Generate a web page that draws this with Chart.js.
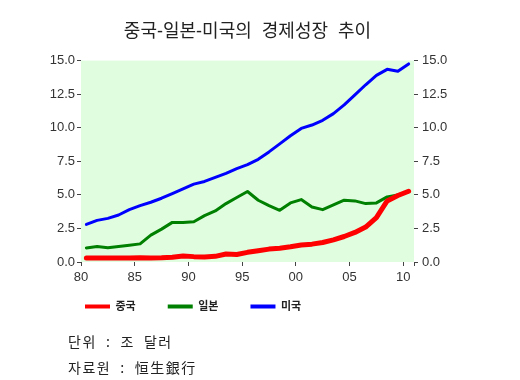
<!DOCTYPE html>
<html>
<head>
<meta charset="utf-8">
<script src="https://cdn.jsdelivr.net/npm/chart.js@4"></script>
<style>
  body { margin: 0; background: #fff; }
  #wrap { position: relative; width: 520px; height: 380px; }
  .note { position: absolute; left: 68px; font: 14px "Noto Sans CJK KR", sans-serif; color: #222;
          letter-spacing: 1.5px; word-spacing: 4.5px; white-space: nowrap; }
</style>
</head>
<body>
<div id="wrap">
  <canvas id="chart" width="520" height="380"></canvas>
  <div class="note" style="top:331px">단위 : 조 달러</div>
  <div class="note" style="top:357px">자료원 : 恒生銀行</div>
</div>
<script>
// 연도별 GDP (조 달러), 그림에서 읽은 값
const years = [1980, 1981, 1982, 1983, 1984, 1985, 1986, 1987, 1988, 1989,
               1990, 1991, 1992, 1993, 1994, 1995, 1996, 1997, 1998, 1999,
               2000, 2001, 2002, 2003, 2004, 2005, 2006, 2007, 2008, 2009, 2010];
const china = [0.30, 0.30, 0.29, 0.30, 0.30, 0.31, 0.30, 0.31, 0.36, 0.45,
               0.40, 0.38, 0.42, 0.60, 0.56, 0.72, 0.84, 0.96, 1.03, 1.13,
               1.26, 1.33, 1.45, 1.65, 1.90, 2.20, 2.60, 3.30, 4.55, 4.95, 5.27];
const japan = [1.05, 1.15, 1.06, 1.15, 1.25, 1.35, 2.00, 2.45, 2.95, 2.95,
               3.00, 3.45, 3.80, 4.35, 4.80, 5.25, 4.60, 4.20, 3.85, 4.40,
               4.65, 4.10, 3.90, 4.25, 4.60, 4.55, 4.35, 4.40, 4.85, 5.00, 5.25];
const usa = [2.80, 3.10, 3.25, 3.50, 3.90, 4.20, 4.45, 4.75, 5.10, 5.45,
             5.80, 6.00, 6.30, 6.60, 6.95, 7.25, 7.65, 8.20, 8.80, 9.40,
             9.95, 10.20, 10.55, 11.05, 11.70, 12.45, 13.20, 13.90, 14.35, 14.20, 14.75];
const seriesNames = ['중국', '일본', '미국'];
const seriesColors = ['#ff0000', '#008000', '#0000ff'];
const yTicks = [0, 2.5, 5, 7.5, 10, 12.5, 15];

// 연간 값은 해당 연도의 가운데에 찍는다
function toPoints(vals) {
    return vals.map((v, i) => ({ x: years[i] + 0.5, y: v }));
}

Chart.defaults.font.family = '"Liberation Sans", "Noto Sans CJK KR", sans-serif';
Chart.defaults.color = '#333';

const plotBg = {
    id: 'plotBg',
    beforeDraw(chart) {
        const { ctx, chartArea: a } = chart;
        ctx.save();
        ctx.fillStyle = '#e0fde0';
        ctx.fillRect(a.left, a.top, a.right - a.left, a.bottom - a.top);
        ctx.restore();
    }
};

// 범례와 제목을 그림 속 위치로 옮긴다
const placeLegend = {
    id: 'placeLegend',
    afterLayout(chart) {
        const lg = chart.legend;
        lg.left = 53;
        lg.right = 520;
        lg.top = 269;
        lg.bottom = lg.top + lg.height;
        const t = chart.titleBlock;
        t.left = 81;
        t.right = 414;
    }
};

const tickStyle = {
    min: 0,
    max: 15,
    afterBuildTicks(scale) {
        scale.ticks = yTicks.map(v => ({ value: v }));
    },
    grid: { drawOnChartArea: false, tickLength: 4, color: '#444' },
    border: { display: false }
};

const widths = [5, 3, 3];
const datasets = [china, japan, usa].map((vals, i) => ({
    label: seriesNames[i],
    data: toPoints(vals),
    borderColor: seriesColors[i],
    backgroundColor: seriesColors[i],
    borderWidth: widths[i],
    pointRadius: 0,
    tension: 0,
    borderJoinStyle: 'round',
    borderCapStyle: 'round'
}));

new Chart(document.getElementById('chart'), {
    type: 'line',
    data: { datasets: datasets },
    options: {
        responsive: false,
        animation: false,
        layout: { padding: { bottom: 35 } },
        scales: {
            x: {
                type: 'linear',
                min: 1980,
                max: 2011,
                afterBuildTicks(scale) {
                    const t = [];
                    for (let y = 1980; y <= 2010; y += 5) t.push({ value: y });
                    t.push({ value: 2011 });
                    scale.ticks = t;
                },
                afterFit(scale) { scale.height = 30; },
                ticks: {
                    font: { size: 13 },
                    padding: 4,
                    maxRotation: 0,
                    autoSkip: false,
                    callback: v => (v % 5 === 0 ? String(v % 100).padStart(2, '0') : '')
                },
                grid: { drawOnChartArea: false, tickLength: 4, color: '#444' },
                border: { display: false }
            },
            y: Object.assign({}, tickStyle, {
                position: 'left',
                afterFit(scale) { scale.width = 81; },
                ticks: { font: { size: 13 }, padding: 2, callback: v => v.toFixed(1) }
            }),
            y2: Object.assign({}, tickStyle, {
                position: 'right',
                afterFit(scale) { scale.width = 106; },
                ticks: { font: { size: 13 }, padding: 4, callback: v => v.toFixed(1) }
            })
        },
        plugins: {
            title: {
                display: true,
                text: '중국-일본-미국의  경제성장  추이',
                color: '#222',
                font: { size: 18, weight: 'normal' },
                padding: { top: 21, bottom: 18 }
            },
            legend: {
                position: 'bottom',
                align: 'start',
                labels: {
                    boxWidth: 25,
                    boxHeight: 4,
                    padding: 32,
                    color: '#222',
                    font: { size: 11, weight: 'bold' },
                    generateLabels(chart) {
                        return Chart.defaults.plugins.legend.labels.generateLabels(chart)
                            .map(l => Object.assign(l, { lineWidth: 0 }));
                    }
                }
            },
            tooltip: { enabled: false }
        }
    },
    plugins: [plotBg, placeLegend]
});
</script>
</body>
</html>
